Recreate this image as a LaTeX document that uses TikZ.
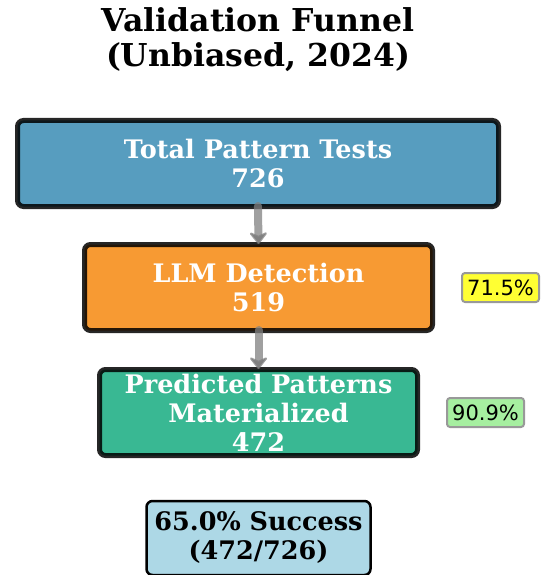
\documentclass[tikz,border=0pt]{standalone}
\usepackage{fontspec}
\setmainfont{DejaVu Serif}
\newfontfamily\labelfont{DejaVu Sans}
\usetikzlibrary{arrows.meta}

\definecolor{totalblue}{HTML}{579DBF}
\definecolor{llmorange}{HTML}{F79A33}
\definecolor{matgreen}{HTML}{39B893}
\definecolor{successblue}{HTML}{ADD8E6}
\definecolor{rateyellow}{HTML}{FFFF33}
\definecolor{rategreen}{HTML}{A6EFA0}

\begin{document}
\begin{tikzpicture}[x=1pt, y=-1pt,
    stage/.style={rectangle, rounded corners=6pt, draw=black, draw opacity=0.85, line width=5pt,
        text=white, align=center, font=\bfseries\fontsize{25.5}{29}\selectfont,
        minimum height=86pt, inner sep=0pt},
    rate/.style={rectangle, rounded corners=3pt, draw=gray!80, line width=2pt,
        font=\labelfont\fontsize{21}{24}\selectfont, minimum width=77pt, minimum height=29pt, inner sep=0pt},
    flow/.style={line width=8pt, draw=gray, draw opacity=0.75, line cap=round,
        -{Stealth[round, length=14pt, width=22pt, inset=5pt]}, shorten <=-3pt, shorten >=-2pt}]
    \useasboundingbox (0,0) rectangle (555,575);

    \node at (258,40) [align=center, font=\bfseries\fontsize{31.5}{35}\selectfont] (title) {Validation Funnel\\(Unbiased, 2024)};

    \node at (258,163.5) [stage, fill=totalblue, minimum width=481pt] (Total) {Total Pattern Tests\\726};
    \node at (258.5,287.5) [stage, fill=llmorange, minimum width=348pt] (LLM) {LLM Detection\\519};
    \node at (258.5,412.5) [stage, fill=matgreen, minimum width=318pt] (Materialized) {Predicted Patterns\\Materialized\\472};
    \node at (258.5,538) [rectangle, rounded corners=6pt, draw=black, line width=2.5pt, fill=successblue,
        align=center, font=\bfseries\fontsize{25.5}{29}\selectfont, minimum width=224pt, minimum height=74pt, inner sep=0pt] (Success) {65.0\% Success\\(472/726)};

    \node at (500.5,287.5) [rate, fill=rateyellow] (LLMrate) {71.5\%};
    \node at (485.5,412.5) [rate, fill=rategreen] (Matrate) {90.9\%};

    \draw[flow] (Total.south) -- (LLM.north);
    \draw[flow] (LLM.south) -- (Materialized.north);
\end{tikzpicture}
\end{document}
